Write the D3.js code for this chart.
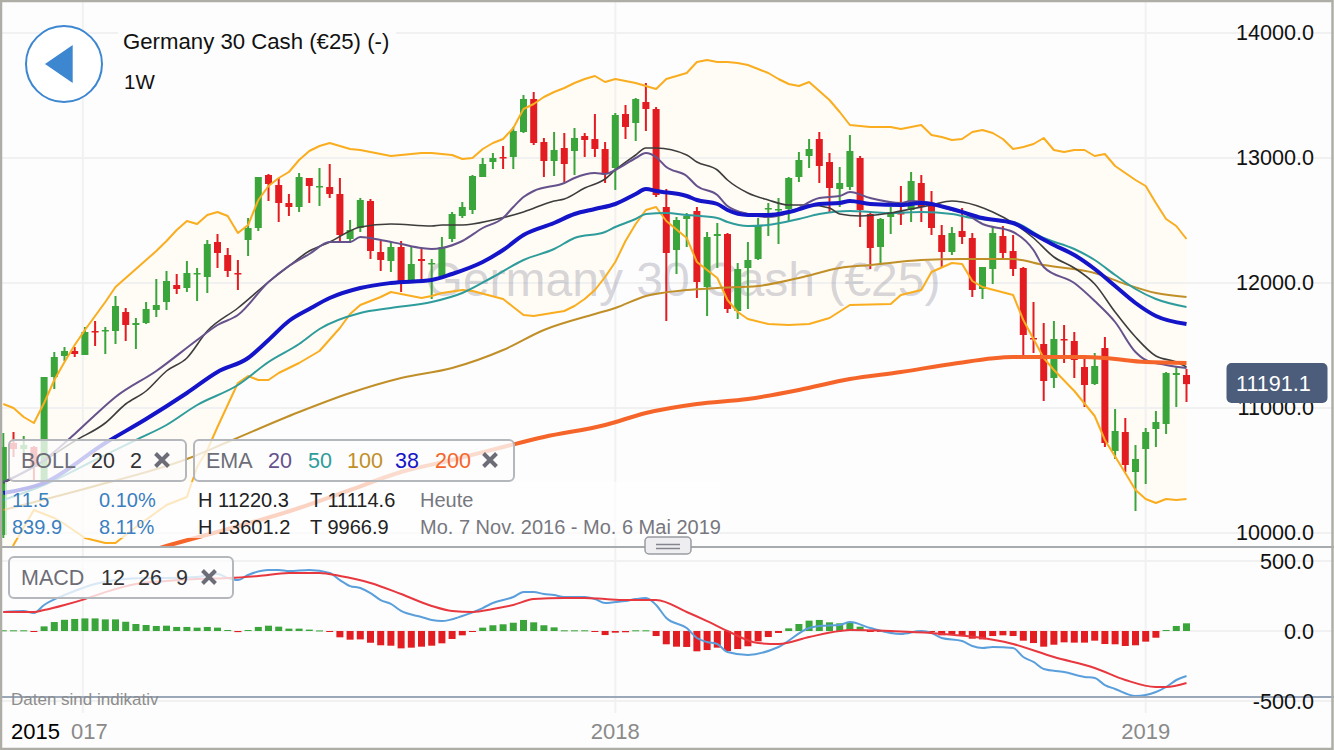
<!DOCTYPE html>
<html>
<head>
<meta charset="utf-8">
<title>Germany 30 Cash</title>
<script src="https://cdn.jsdelivr.net/npm/d3@7"></script>
<style>
  html, body { margin: 0; padding: 0; background: #fff; }
  svg { display: block; font-family: "Liberation Sans", Arial, sans-serif; }
</style>
</head>
<body>
<svg id="chart" width="1334" height="750"></svg>
<script>
// weekly candles
const opens = [9984,10720,10672,10688,10400,11248,11416,11456,11424,11616,
  11616,11616,11768,11664,11680,11784,11848,11984,11960,12072,
  12048,12328,12224,12080,12344,12440,12864,12784,12640,12608,
  12840,12768,12768,12712,12352,12440,12656,12248,12176,12288,
  12008,12192,12152,12048,12352,12536,12584,12848,12968,13008,
  13008,13208,13472,13128,12976,13080,13056,13176,13152,13072,
  12920,13352,13280,13448,13392,12608,12264,12512,12576,11968,
  12376,12392,11776,12120,12192,12592,12584,12592,12848,13016,
  13152,12968,12752,12768,13000,12552,12288,12528,12560,12584,
  12800,12640,12384,12248,12416,12360,11952,12112,12376,12256,
  12120,11560,11512,11240,11552,11536,11328,11192,11480,10656,
  10808,10488,10672,10832,10872,11264,11264]
const highs = [10800,10808,10776,10696,11248,11448,11488,11488,11648,11696,
  11648,11896,11800,11720,11848,12032,12096,12072,12176,12120,
  12344,12392,12280,12184,12520,12848,12872,12840,12712,12880,
  12840,12920,12952,12840,12504,12680,12672,12336,12328,12336,
  12288,12272,12192,12368,12568,12648,12864,13000,13040,13096,
  13248,13504,13528,13160,13208,13200,13240,13200,13352,13128,
  13360,13424,13480,13600,13408,12752,12528,12560,12608,12408,
  12480,12400,12160,12328,12520,12640,12680,12848,13048,13152,
  13208,13040,12928,13184,13016,12560,12520,12608,12776,12888,
  12864,12736,12464,12448,12600,12400,12128,12448,12456,12384,
  12128,11848,11680,11696,11664,11608,11416,11440,11568,10992,
  10920,10704,10840,10976,11288,11328,11312]
const lows = [9960,10608,10600,10408,10384,11152,11376,11408,11424,11496,
  11432,11512,11536,11472,11672,11728,11784,11912,11928,11856,
  11920,12120,12048,11944,12216,12416,12656,12488,12536,12568,
  12640,12616,12680,12320,12320,12408,12192,12096,12088,11928,
  12000,12024,11872,12040,12328,12520,12552,12848,12912,12912,
  12912,13200,13104,12848,12856,12808,12864,13008,13008,12800,
  12744,13152,13136,13216,12688,11696,12072,12288,11880,11736,
  12120,11760,11712,11792,12184,12376,12312,12496,12808,12920,
  12800,12560,12608,12744,12448,12112,12144,12392,12464,12488,
  12488,12384,12128,12224,12312,11888,11872,11992,12192,12056,
  11408,11440,11056,11160,11360,11240,11008,11184,10688,10592,
  10488,10176,10392,10688,10792,11008,11048]
const closes = [10688,10672,10704,10528,11248,11408,11456,11432,11608,11608,
  11624,11816,11664,11680,11792,11824,12016,11952,12080,12080,
  12312,12240,12096,12072,12440,12848,12792,12640,12608,12848,
  12776,12776,12712,12384,12424,12664,12256,12184,12288,12008,
  12152,12176,12160,12288,12552,12608,12856,12952,13000,13000,
  13216,13472,13120,12976,13064,12952,13160,13144,13072,12880,
  13344,13248,13472,13392,12704,12240,12504,12536,12008,12368,
  12392,11792,12112,12184,12456,12600,12592,12840,12984,13072,
  12936,12760,12800,13056,12584,12280,12512,12552,12552,12816,
  12608,12440,12248,12400,12368,11944,12128,12400,12240,12112,
  11584,11552,11216,11552,11544,11384,11184,11336,10720,10816,
  10544,10592,10808,10888,11280,11280,11191]

// bollinger upper band, one value per week
const bollUpper = [11032,11000,10928,10880,11040,11224,11368,11504,11624,11736,
  11848,11968,12040,12112,12184,12256,12336,12424,12496,12472,
  12544,12568,12536,12400,12464,12664,12776,12840,12888,12984,
  13056,13096,13120,13096,13072,13064,13048,13032,13016,13024,
  13032,13040,13040,13032,13024,12992,13000,13072,13120,13152,
  13240,13392,13432,13488,13528,13560,13600,13632,13656,13608,
  13632,13616,13600,13576,13552,13632,13656,13680,13768,13784,
  13768,13768,13760,13744,13712,13680,13632,13592,13576,13608,
  13536,13464,13368,13264,13256,13248,13248,13248,13232,13248,
  13264,13184,13168,13144,13152,13208,13224,13200,13152,13072,
  13088,13112,13160,13064,13048,13064,13064,13016,13032,12936,
  12880,12824,12776,12640,12512,12456,12352]

// the other lines are kept as week index + value
const bollLowerIdx = [0,1,3,5,6,8,10,11,13,16,18,19,20,21,22,23,24,25,26,27,29,31,33,34,35,37,38,41,42,43,45,46,49,50,51,52,55,56,57,58,59,60,61,62,63,64,65,67,68,70,71,72,73,75,77,79,81,83,87,88,90,91,93,94,95,96,99,100,102,103,105,107,108,110,111,112,113,114,115,116]
const bollLower = [9664,9904,10184,10120,10072,9960,9920,9920,10048,10224,10288,10528,10664,10848,11024,11200,11256,11224,11224,11280,11360,11456,11640,11752,11824,11888,11928,11880,11896,11920,11944,11936,11872,11808,11744,11736,11776,11816,11872,11944,12048,12168,12336,12472,12584,12608,12496,12360,12168,12040,11864,11768,11712,11672,11664,11672,11720,11824,11832,11904,11944,12088,12160,12152,12016,11968,11904,11704,11400,11304,11136,10936,10744,10480,10344,10272,10240,10272,10264,10272]

const bollMidIdx = [0,3,7,10,12,14,16,18,20,23,26,28,30,32,35,38,42,43,45,48,51,54,55,57,59,60,62,63,64,67,68,70,71,73,75,77,79,81,82,84,87,89,91,93,94,97,99,101,103,105,107,109,111,113,115,116]
const bollMid = [10400,10528,10736,10880,11032,11136,11296,11400,11616,11800,12008,12136,12256,12328,12448,12472,12456,12464,12464,12504,12568,12656,12672,12760,12832,12904,13024,13080,13080,13024,12968,12904,12824,12720,12664,12624,12624,12600,12552,12536,12560,12592,12624,12656,12648,12568,12480,12360,12208,12120,11992,11768,11568,11416,11368,11328]

const ema20Idx = [0,4,7,9,11,15,19,21,23,26,28,30,32,34,35,37,39,41,42,43,45,47,49,50,51,52,55,56,58,59,60,62,63,64,65,67,68,70,71,73,75,77,80,82,83,85,88,89,91,93,94,96,99,101,102,105,107,109,111,112,114,116]
const ema20 = [10408,10584,10792,10944,11088,11296,11544,11664,11744,12008,12136,12232,12328,12328,12368,12344,12312,12280,12272,12280,12336,12440,12520,12608,12688,12736,12800,12840,12880,12872,12904,13000,13040,13008,12928,12856,12776,12704,12616,12552,12528,12560,12680,12696,12728,12680,12640,12656,12640,12584,12568,12472,12408,12264,12128,12000,11856,11688,11448,11384,11344,11320]

const ema38Idx = [0,4,10,14,18,21,24,26,28,30,32,35,38,42,44,47,49,51,54,56,58,60,62,63,64,67,68,70,71,73,75,77,80,82,83,85,88,90,93,96,99,101,103,105,107,109,111,113,116]
const ema38 = [10320,10400,10720,10912,11120,11288,11400,11544,11696,11792,11880,11960,12000,12024,12072,12168,12264,12384,12480,12552,12592,12632,12712,12752,12736,12696,12664,12632,12584,12544,12544,12568,12632,12640,12656,12632,12624,12640,12592,12520,12480,12392,12304,12224,12112,11976,11840,11736,11672]

const ema50Idx = [0,4,9,13,16,19,23,26,29,31,35,38,42,45,48,51,54,56,59,60,62,63,65,67,70,71,73,75,78,80,83,85,87,90,93,95,99,102,105,107,109,111,113,116]
const ema50 = [10264,10384,10584,10744,10864,11024,11184,11368,11512,11632,11760,11800,11848,11920,12048,12184,12272,12360,12408,12448,12512,12552,12560,12544,12520,12488,12456,12464,12512,12552,12576,12568,12560,12568,12552,12520,12488,12360,12272,12184,12064,11952,11872,11808]

const ema100Idx = [0,9,18,22,29,34,39,44,49,53,58,60,63,67,70,74,78,82,85,90,94,99,102,107,110,113,116]
const ema100 = [10184,10376,10592,10728,10968,11120,11240,11320,11464,11624,11752,11800,11896,11944,11960,11976,12040,12120,12144,12184,12192,12192,12144,12080,11992,11920,11888]

const ema200Idx = [0,16,29,34,39,44,49,53,59,63,68,73,78,83,88,93,99,106,108,112,116]
const ema200 = [9512,9896,10200,10344,10488,10584,10688,10768,10864,10960,11032,11072,11144,11232,11288,11352,11408,11408,11400,11368,11360]

// MACD panel
const macdHist = [5,5,5,-5,33,64,80,86,90,90,83,83,66,50,43,36,38,29,29,24,29,24,7,-8,7,29,38,31,17,17,10,4,-7,-45,-62,-60,-84,-102,-105,-124,-119,-112,-105,-88,-57,-31,-3,24,41,48,59,79,62,41,26,5,5,5,-5,-29,-12,-9,5,5,-36,-95,-112,-114,-145,-136,-119,-143,-129,-109,-74,-43,-14,19,50,74,79,62,55,66,31,-5,-5,-5,-7,-5,-5,-7,-31,-24,-29,-55,-60,-36,-31,-36,-69,-86,-112,-98,-81,-83,-83,-69,-93,-95,-107,-102,-76,-48,7,36,55]
const macdIdx = [0,2,3,4,6,7,9,11,14,16,19,21,22,23,24,26,27,28,30,32,33,34,35,36,37,38,39,41,42,43,45,47,48,50,51,52,53,54,55,57,58,59,60,61,62,63,64,65,67,68,69,70,71,73,76,79,80,82,83,85,88,90,91,92,94,95,96,97,99,100,101,102,104,106,107,108,109,111,112,113,114,115,116]
const macdLine = [136,143,129,186,257,286,336,364,378,378,386,407,378,364,400,436,436,428,436,414,364,321,307,271,221,193,143,100,79,71,107,164,200,243,278,278,264,257,243,243,228,200,207,214,228,236,186,93,21,-50,-79,-93,-150,-171,-114,21,36,43,64,21,-21,0,-14,-50,-71,-107,-121,-114,-121,-186,-221,-271,-293,-328,-336,-386,-414,-464,-457,-436,-400,-350,-321]
const signalIdx = [0,3,4,6,8,10,13,16,19,22,25,28,31,33,36,39,42,44,46,48,50,52,55,57,59,61,64,67,69,71,74,76,79,82,83,87,91,99,103,107,110,113,114,116]
const signalLine = [136,136,150,186,228,278,336,357,371,378,393,414,414,393,343,264,179,143,136,157,186,228,236,236,228,221,221,136,71,0,-86,-93,-43,0,7,0,-14,-93,-186,-264,-350,-400,-400,-371]

const priceTicks = [14000,13000,12000,11000,10000]
const macdTicks = [500,0,-500]
const yearTicks = [{ label: '2018', week: 60 }, { label: '2019', week: 112 }]
const yearGrid = [7.8, 60, 112]
const lastPrice = 11191.1

const green = '#3aa53a', red = '#e21c20'

const svg = d3.select('#chart')
const x = d3.scaleLinear().domain([0, 116]).range([3.3, 1186.5])
const y = d3.scaleLinear().domain([10000, 14000]).range([533, 33])
const yMacd = d3.scaleLinear().domain([-500, 500]).range([701, 561])
const fmt = d => d.toFixed(1)

svg.append('rect').attr('width', 1334).attr('height', 750).attr('fill', '#fdfdfd')

let defs = svg.append('defs')
defs.append('clipPath').attr('id', 'priceClip').append('rect')
  .attr('x', 2).attr('y', 2).attr('width', 1330).attr('height', 544)

// bollinger fill goes under the grid
const upperPts = bollUpper.map((v, i) => [x(i), y(v)])
const lowerPts = bollLowerIdx.map((k, i) => [x(k), y(bollLower[i])])
svg.append('path')
  .attr('clip-path', 'url(#priceClip)')
  .attr('d', d3.line()(upperPts.concat(lowerPts.slice().reverse())) + 'Z')
  .attr('fill', '#fffbf5')

// grid
let grid = svg.append('g').attr('stroke', '#f1f1f1').attr('stroke-width', 2)
grid.selectAll('.h').data(priceTicks).enter().append('line')
  .attr('x1', 0).attr('x2', 1334).attr('y1', d => y(d)).attr('y2', d => y(d))
grid.selectAll('.m').data(macdTicks).enter().append('line')
  .attr('x1', 0).attr('x2', 1334).attr('y1', d => yMacd(d)).attr('y2', d => yMacd(d))
grid.selectAll('.v').data(yearGrid).enter().append('line')
  .attr('x1', d => x(d)).attr('x2', d => x(d)).attr('y1', 0).attr('y2', 713)

let plot = svg.append('g').attr('clip-path', 'url(#priceClip)')

plot.append('text')
  .attr('x', 683).attr('y', 296).attr('text-anchor', 'middle')
  .attr('font-size', 48).attr('fill', '#74748a').attr('fill-opacity', 0.3)
  .text('Germany 30 Cash (€25)')

// candles
const candles = d3.range(opens.length)
let wicks = plot.append('g')
wicks.selectAll('line').data(candles).enter().append('line')
  .attr('x1', i => x(i)).attr('x2', i => x(i))
  .attr('y1', i => y(highs[i])).attr('y2', i => y(lows[i]))
  .attr('stroke', i => closes[i] >= opens[i] ? green : red)
  .attr('stroke-width', 2)
let bodies = plot.append('g')
bodies.selectAll('rect').data(candles).enter().append('rect')
  .attr('x', i => x(i) - 3.5).attr('width', 7)
  .attr('y', i => y(Math.max(opens[i], closes[i])))
  .attr('height', i => Math.max(Math.abs(y(opens[i]) - y(closes[i])), 1.5))
  .attr('fill', i => closes[i] >= opens[i] ? green : red)

// line helpers
const smooth = d3.line().curve(d3.curveMonotoneX)
const lineOf = (idx, vals, scale) => smooth(idx.map((k, i) => [x(k), scale(vals[i])]))
const addLine = (g, d, color, w) => g.append('path').attr('d', d)
  .attr('fill', 'none').attr('stroke', color).attr('stroke-width', w)
  .attr('stroke-linejoin', 'round')

addLine(plot, d3.line()(upperPts), '#f9ad1f', 2)
addLine(plot, d3.line()(lowerPts), '#f9ad1f', 2)
addLine(plot, lineOf(ema100Idx, ema100, y), '#c18f28', 2)
addLine(plot, lineOf(ema50Idx, ema50, y), '#2f9c9c', 2)
addLine(plot, lineOf(bollMidIdx, bollMid, y), '#3d3d3d', 1.6)
addLine(plot, lineOf(ema20Idx, ema20, y), '#65528c', 2)
addLine(plot, lineOf(ema38Idx, ema38, y), '#1414c8', 4)
addLine(plot, lineOf(ema200Idx, ema200, y), '#f5652a', 4)

// panel separators
svg.append('line').attr('x1', 0).attr('x2', 1334).attr('y1', 547).attr('y2', 547)
  .attr('stroke', '#a8abae').attr('stroke-width', 2)

// macd histogram
let hist = svg.append('g')
hist.selectAll('rect').data(macdHist).enter().append('rect')
  .attr('x', (d, i) => x(i) - 3.5).attr('width', 7)
  .attr('y', d => yMacd(Math.max(d, 0)))
  .attr('height', d => Math.max(Math.abs(yMacd(d) - yMacd(0)), 1))
  .attr('fill', d => d >= 0 ? green : red)
addLine(svg, lineOf(macdIdx, macdLine, yMacd), '#5a9fdb', 2)
addLine(svg, lineOf(signalIdx, signalLine, yMacd), '#e8383f', 2)

svg.append('line').attr('x1', 0).attr('x2', 1334).attr('y1', 697).attr('y2', 697)
  .attr('stroke', '#9aa8ba').attr('stroke-width', 2)

svg.append('text').attr('x', 11).attr('y', 705).attr('font-size', 17)
  .attr('fill', '#8d8d8d').text('Daten sind indikativ')

// axes
let priceAxis = svg.append('g').attr('transform', 'translate(1314,0)')
  .call(d3.axisLeft(y).tickValues(priceTicks).tickSize(0).tickPadding(0).tickFormat(fmt))
let macdAxis = svg.append('g').attr('transform', 'translate(1314,1)')
  .call(d3.axisLeft(yMacd).tickValues(macdTicks).tickSize(0).tickPadding(0).tickFormat(fmt))
svg.selectAll('.domain').remove()
priceAxis.selectAll('text').attr('font-size', 21.6).attr('fill', '#111').attr('font-family', 'Liberation Sans')
macdAxis.selectAll('text').attr('font-size', 21.6).attr('fill', '#111').attr('font-family', 'Liberation Sans')

svg.selectAll('.year').data(yearTicks).enter().append('text')
  .attr('x', d => x(d.week)).attr('y', 739).attr('text-anchor', 'middle')
  .attr('font-size', 22).attr('fill', '#8a8a8a').text(d => d.label)
svg.append('text').attr('x', 71).attr('y', 739).attr('font-size', 22).attr('fill', '#8a8a8a').text('017')
svg.append('text').attr('x', 11).attr('y', 739).attr('font-size', 22).attr('fill', '#000').text('2015')

// last price tag
svg.append('rect').attr('x', 1226.5).attr('y', 363).attr('width', 101).attr('height', 40).attr('rx', 5)
  .attr('fill', '#4b5d7b')
svg.append('text').attr('x', 1236).attr('y', y(lastPrice) + 7).attr('font-size', 21.6).attr('fill', '#fff')
  .text(fmt(lastPrice))

// legend: faded strip behind the figures, then the boxes
const legendBox = (x0, y0, w, h) => svg.append('rect')
  .attr('x', x0).attr('y', y0).attr('width', w).attr('height', h).attr('rx', 5)
  .attr('fill', '#fdfdfd').attr('fill-opacity', 0.78)
  .attr('stroke', '#b4b7bc').attr('stroke-width', 2)

svg.append('rect').attr('x', 5).attr('y', 482).attr('width', 715).attr('height', 56)
  .attr('fill', '#fdfdfd').attr('fill-opacity', 0.72)
legendBox(9, 440, 177, 41)
legendBox(194, 440, 320, 41)
legendBox(9, 557, 224, 41)

const label = (tx, ty, txt, color, size) => svg.append('text').attr('x', tx).attr('y', ty)
  .attr('font-size', size || 21.5).attr('fill', color).text(txt)
const cross = (cx, cy) => svg.append('path')
  .attr('d', d3.line()([[cx - 6.5, cy - 6.5], [cx + 6.5, cy + 6.5]]) + d3.line()([[cx - 6.5, cy + 6.5], [cx + 6.5, cy - 6.5]]))
  .attr('stroke', '#6d6d78').attr('stroke-width', 4).attr('fill', 'none')

label(21, 468, 'BOLL', '#6d6d78')
label(91, 468, '20', '#333')
label(130, 468, '2', '#333')
cross(162, 460)
label(206, 468, 'EMA', '#6d6d78')
label(268, 468, '20', '#65528c')
label(308, 468, '50', '#2f9c9c')
label(347, 468, '100', '#c18f28')
label(395, 468, '38', '#1414c8')
label(435, 468, '200', '#f5652a')
cross(490, 460)
label(21, 585, 'MACD', '#6d6d78')
label(101, 585, '12', '#333')
label(138, 585, '26', '#333')
label(176, 585, '9', '#333')
cross(209, 577)

label(12, 507, '11.5', '#3a7fc0', 20)
label(99, 507, '0.10%', '#3a7fc0', 20)
label(198, 507, 'H 11220.3', '#222', 20)
label(310, 507, 'T 11114.6', '#222', 20)
label(420, 507, 'Heute', '#77777f', 20)
label(12, 534, '839.9', '#3a7fc0', 20)
label(99, 534, '8.11%', '#3a7fc0', 20)
label(198, 534, 'H 13601.2', '#222', 20)
label(310, 534, 'T 9966.9', '#222', 20)
label(420, 534, 'Mo. 7 Nov. 2016 - Mo. 6 Mai 2019', '#77777f', 20)

// header
svg.append('rect').attr('x', 118).attr('y', 24).attr('width', 278).attr('height', 70).attr('fill', '#fdfdfd')
label(123, 49, 'Germany 30 Cash (€25) (-)', '#111', 22.2)
label(124, 89, '1W', '#111', 20.5)
svg.append('circle').attr('cx', 64).attr('cy', 64).attr('r', 38).attr('fill', '#fff')
  .attr('stroke', '#3d87d0').attr('stroke-width', 2)
svg.append('path').attr('d', d3.line()([[72.7, 45], [45, 64], [72.7, 83]]) + 'Z').attr('fill', '#3d87d0')

// drawer handle between the panels
svg.append('rect').attr('x', 645).attr('y', 537).attr('width', 46).attr('height', 17).attr('rx', 4)
  .attr('fill', '#eeeef0').attr('stroke', '#9a9ca3').attr('stroke-width', 1.5)
svg.append('path').attr('d', 'M656 544.5H680M656 548.5H680').attr('stroke', '#85868c').attr('stroke-width', 1.5)

// frame
svg.append('rect').attr('x', 1).attr('y', 1).attr('width', 1331.5).attr('height', 748)
  .attr('fill', 'none').attr('stroke', '#aeaea6').attr('stroke-width', 2.5)
</script>
</body>
</html>
